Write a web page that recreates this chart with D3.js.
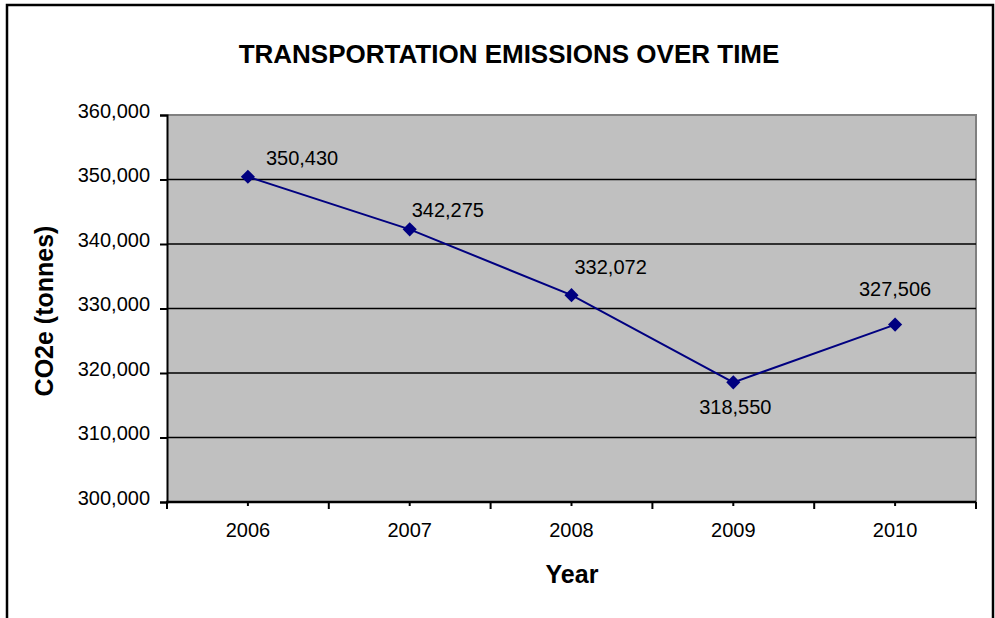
<!DOCTYPE html>
<html>
<head>
<meta charset="utf-8">
<script src="https://cdn.jsdelivr.net/npm/d3@7"></script>
<style>
  body { margin: 0; background: #fff; }
  svg { display: block; font-family: "Liberation Sans", Arial, sans-serif; }
</style>
</head>
<body>
<div id="chart"></div>
<script>
// data
const years = ["2006", "2007", "2008", "2009", "2010"];
const emissions = [350430, 342275, 332072, 318550, 327506];
const yTicks = [300000, 310000, 320000, 330000, 340000, 350000, 360000];

const W = 995, H = 618;
const plot = { left: 167, right: 976, top: 115, bottom: 502 };

// label placement, offsets from each point (Excel-style manual nudge)
const labelOffsets = [
  { dx: 18, dy: -12, anchor: "start" },
  { dx: 2, dy: -12, anchor: "start" },
  { dx: 3, dy: -21, anchor: "start" },
  { dx: 2, dy: 32, anchor: "middle" },
  { dx: 0, dy: -29, anchor: "middle" }
];

const svg = d3.select("#chart").append("svg")
  .attr("width", W)
  .attr("height", H);

// outer chart frame
svg.append("rect")
  .attr("x", 7).attr("y", 5)
  .attr("width", 986).attr("height", 700)
  .attr("fill", "#fff")
  .attr("stroke", "#000")
  .attr("stroke-width", 2.5);

const x = d3.scaleBand().domain(years).range([plot.left, plot.right]);
const y = d3.scaleLinear().domain([300000, 360000]).range([plot.bottom, plot.top]);

// plot area
svg.append("rect")
  .attr("x", plot.left).attr("y", plot.top)
  .attr("width", plot.right - plot.left)
  .attr("height", plot.bottom - plot.top)
  .attr("fill", "#c0c0c0");

// top & right border (grey)
svg.append("path")
  .attr("d", `M${plot.left},${plot.top}H${plot.right}V${plot.bottom}`)
  .attr("fill", "none")
  .attr("stroke", "#808080")
  .attr("stroke-width", 2);

// gridlines
svg.append("g")
  .selectAll("line")
  .data(yTicks.filter(t => t > 300000 && t < 360000))
  .join("line")
  .attr("x1", plot.left).attr("x2", plot.right)
  .attr("y1", d => y(d)).attr("y2", d => y(d))
  .attr("stroke", "#000")
  .attr("stroke-width", 1.5);

// y axis
const yAxis = svg.append("g")
  .attr("transform", `translate(${plot.left},0)`)
  .call(d3.axisLeft(y).tickValues(yTicks).tickSize(7).tickPadding(10)
    .tickFormat(d3.format(",")));
yAxis.select(".domain").attr("stroke", "#000").attr("stroke-width", 2);
yAxis.selectAll(".tick line").attr("stroke", "#000").attr("stroke-width", 2);
yAxis.selectAll(".tick text")
  .attr("font-size", 20)
  .attr("font-family", "'Liberation Sans', Arial, sans-serif")
  .attr("fill", "#000")
  .attr("dy", "0.12em");

// x axis: boundary ticks long, centre ticks short
const xg = svg.append("g");
xg.append("line")
  .attr("x1", plot.left - 1).attr("x2", plot.right)
  .attr("y1", plot.bottom).attr("y2", plot.bottom)
  .attr("stroke", "#000").attr("stroke-width", 2.5);
const bounds = years.map(d => x(d)).concat([plot.right]);
xg.selectAll(".bt").data(bounds).join("line")
  .attr("class", "bt")
  .attr("x1", d => d).attr("x2", d => d)
  .attr("y1", plot.bottom).attr("y2", plot.bottom + 7)
  .attr("stroke", "#000").attr("stroke-width", 2);
xg.selectAll(".ct").data(years).join("line")
  .attr("class", "ct")
  .attr("x1", d => x(d) + x.bandwidth() / 2).attr("x2", d => x(d) + x.bandwidth() / 2)
  .attr("y1", plot.bottom).attr("y2", plot.bottom + 4)
  .attr("stroke", "#000").attr("stroke-width", 2);
xg.selectAll(".xl").data(years).join("text")
  .attr("class", "xl")
  .attr("x", d => x(d) + x.bandwidth() / 2)
  .attr("y", 537)
  .attr("text-anchor", "middle")
  .attr("font-size", 20)
  .text(d => d);

// series line
const pts = years.map((d, i) => [x(d) + x.bandwidth() / 2, y(emissions[i])]);
svg.append("path")
  .datum(pts)
  .attr("d", d3.line())
  .attr("fill", "none")
  .attr("stroke", "#000080")
  .attr("stroke-width", 2);

// diamond markers
svg.append("g").selectAll("path")
  .data(pts)
  .join("path")
  .attr("transform", d => `translate(${d[0]},${d[1]}) rotate(45)`)
  .attr("d", "M-5,-5H5V5H-5Z")
  .attr("fill", "#000080");

// data labels
svg.append("g").selectAll("text")
  .data(pts)
  .join("text")
  .attr("x", (d, i) => d[0] + labelOffsets[i].dx)
  .attr("y", (d, i) => d[1] + labelOffsets[i].dy)
  .attr("text-anchor", (d, i) => labelOffsets[i].anchor)
  .attr("font-size", 20)
  .text((d, i) => d3.format(",")(emissions[i]));

// titles
svg.append("text")
  .attr("x", 509).attr("y", 63)
  .attr("text-anchor", "middle")
  .attr("font-size", 26)
  .attr("font-weight", "bold")
  .text("TRANSPORTATION EMISSIONS OVER TIME");

svg.append("text")
  .attr("transform", "translate(53,311) rotate(-90)")
  .attr("text-anchor", "middle")
  .attr("font-size", 25)
  .attr("font-weight", "bold")
  .text("CO2e (tonnes)");

svg.append("text")
  .attr("x", 572).attr("y", 583)
  .attr("text-anchor", "middle")
  .attr("font-size", 25)
  .attr("font-weight", "bold")
  .text("Year");
</script>
</body>
</html>
